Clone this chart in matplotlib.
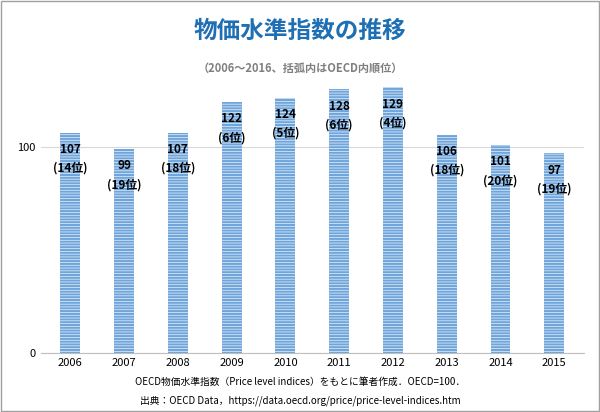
import matplotlib
matplotlib.use("Agg")
import matplotlib.pyplot as plt

plt.rcParams["font.family"] = "Noto Sans CJK JP"
plt.rcParams["hatch.color"] = "#eaf2fb"
plt.rcParams["hatch.linewidth"] = 0.5

years = ["2006", "2007", "2008", "2009", "2010", "2011", "2012", "2013", "2014", "2015"]
values = [107, 99, 107, 122, 124, 128, 129, 106, 101, 97]
ranks = [14, 19, 18, 6, 5, 6, 4, 18, 20, 19]

fig = plt.figure(figsize=(6.0, 4.12), dpi=100)
ax = fig.add_axes([0.068, 0.143, 0.905, 0.665])

x = range(len(years))
ax.bar(x, values, width=0.37, color="#6fa5da", hatch="------", linewidth=0)

for i, (v, r) in enumerate(zip(values, ranks)):
    ax.text(i, v - 5, f"{v}\n({r}位)", ha="center", va="top", fontsize=8.5,
            fontweight="bold", linespacing=1.6)

ax.set_ylim(0, 133)
ax.set_xlim(-0.55, 9.55)
ax.set_yticks([0, 100])
ax.set_xticks(list(x))
ax.set_xticklabels(years)
ax.tick_params(length=0, labelsize=8)
ax.grid(axis="y", color="#d9d9d9", linewidth=0.8)
ax.set_axisbelow(True)
for s in ["top", "right", "left"]:
    ax.spines[s].set_visible(False)
ax.spines["bottom"].set_color("#bfbfbf")

fig.text(0.5, 0.925, "物価水準指数の推移", ha="center", va="center",
         fontsize=17, fontweight="bold", color="#1f6fb4")
fig.text(0.5, 0.835, "（2006～2016、括弧内はOECD内順位）", ha="center", va="center",
         fontsize=8, fontweight="bold", color="#7f7f7f")
fig.text(0.5, 0.072, "OECD物価水準指数（Price level indices）をもとに筆者作成．OECD=100．",
         ha="center", va="center", fontsize=7)
fig.text(0.5, 0.028, "出典：OECD Data，https://data.oecd.org/price/price-level-indices.htm",
         ha="center", va="center", fontsize=7)

fig.patches.append(plt.Rectangle((0.002, 0.002), 0.996, 0.996, transform=fig.transFigure,
                                 fill=False, edgecolor="#a0a0a0", linewidth=1))

fig.savefig("out.png", dpi=100)
